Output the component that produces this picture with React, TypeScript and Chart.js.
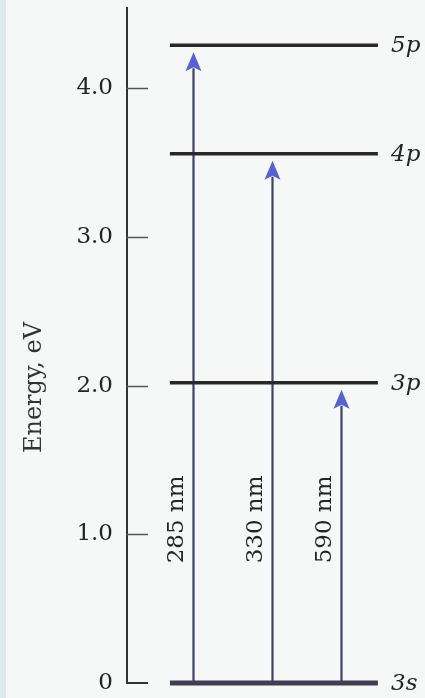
import { useEffect, useRef } from 'react';
import { Chart, registerables } from 'chart.js';

Chart.register(...registerables);

// ---- data ----
const LEVEL_NAMES = ['3s', '3p', '4p', '5p'];
const LEVEL_ENERGIES = [0, 2.02, 3.56, 4.29];

const TRANSITION_LABELS = ['285 nm', '330 nm', '590 nm'];
const TRANSITION_LOWER = [0, 0, 0];
const TRANSITION_UPPER = [4.29, 3.56, 2.02];

const Y_TICKS = [0, 1, 2, 3, 4];
const Y_TICK_LABELS = ['0', '1.0', '2.0', '3.0', '4.0'];
const Y_MIN = 0;
const Y_MAX = 4.54;
const AXIS_TITLE = 'Energy, eV';

// ---- layout (horizontal placement in abstract x units 0..100) ----
const LEVEL_X_START = 14.4;
const LEVEL_X_END = 84.2;
const LEVEL_LABEL_X = 88.6;
const ARROW_X = [22.15, 48.66, 71.81];
const ARROW_LABEL_E = 1.1;

const SERIF = '"DejaVu Serif", "Liberation Serif", serif';
const TEXT = '#242424';

export default function App() {
  const ref = useRef<HTMLCanvasElement>(null);

  useEffect(() => {
    if (!ref.current) return;

    const datasets = LEVEL_NAMES.map((name, i) => ({
      label: name,
      data: [
        { x: LEVEL_X_START, y: LEVEL_ENERGIES[i] },
        { x: LEVEL_X_END, y: LEVEL_ENERGIES[i] },
      ],
      borderColor: i === 0 ? '#433d52' : '#2b2729',
      borderWidth: i === 0 ? 5 : 3.5,
      pointRadius: 0,
      showLine: true,
      fill: false,
      clip: false as any,
    }));

    const diagram = {
      id: 'diagram',
      beforeDatasetsDraw(chart: any) {
        const { ctx, chartArea } = chart;
        const xs = chart.scales.x;
        const ys = chart.scales.y;
        ctx.save();
        // inward axis ticks
        Y_TICKS.forEach((v) => {
          const y = Math.round(ys.getPixelForValue(v)) + 0.5;
          ctx.beginPath();
          ctx.strokeStyle = v === 0 ? '#333' : '#555';
          ctx.lineWidth = v === 0 ? 2 : 1.5;
          ctx.moveTo(chartArea.left - 1, v === 0 ? y - 0.5 : y);
          ctx.lineTo(chartArea.left + 21, v === 0 ? y - 0.5 : y);
          ctx.stroke();
        });
        // axis title
        ctx.save();
        ctx.translate(35, (chartArea.top + chartArea.bottom) / 2 + 42);
        ctx.rotate(-Math.PI / 2);
        ctx.font = `24px ${SERIF}`;
        ctx.fillStyle = '#333';
        ctx.textAlign = 'center';
        ctx.textBaseline = 'middle';
        ctx.fillText(AXIS_TITLE, 0, 0);
        ctx.restore();
        // arrows
        TRANSITION_LABELS.forEach((label, i) => {
          const x = Math.round(xs.getPixelForValue(ARROW_X[i])) + 0.5;
          const y0 = ys.getPixelForValue(TRANSITION_LOWER[i]);
          const yTop = ys.getPixelForValue(TRANSITION_UPPER[i]);
          const tip = yTop + 7;
          const base = tip + 18;
          ctx.beginPath();
          ctx.strokeStyle = '#3d4368';
          ctx.lineWidth = 2.2;
          ctx.moveTo(x, y0);
          ctx.lineTo(x, base - 2);
          ctx.stroke();
          ctx.beginPath();
          ctx.fillStyle = '#5562cf';
          ctx.moveTo(x, tip);
          ctx.lineTo(x + 8, base + 1);
          ctx.lineTo(x, base - 3);
          ctx.lineTo(x - 8, base + 1);
          ctx.closePath();
          ctx.fill();
          // label
          ctx.save();
          ctx.translate(x - 16, ys.getPixelForValue(ARROW_LABEL_E));
          ctx.rotate(-Math.PI / 2);
          ctx.font = `23px ${SERIF}`;
          ctx.fillStyle = TEXT;
          ctx.textAlign = 'center';
          ctx.textBaseline = 'middle';
          ctx.fillText(label, 0, 0);
          ctx.restore();
        });
        ctx.restore();
      },
      afterDatasetsDraw(chart: any) {
        const { ctx } = chart;
        const xs = chart.scales.x;
        const ys = chart.scales.y;
        ctx.save();
        ctx.font = `italic 23px ${SERIF}`;
        ctx.fillStyle = TEXT;
        ctx.textAlign = 'left';
        ctx.textBaseline = 'alphabetic';
        LEVEL_NAMES.forEach((name, i) => {
          ctx.fillText(name, xs.getPixelForValue(LEVEL_LABEL_X), ys.getPixelForValue(LEVEL_ENERGIES[i]) + 7);
        });
        ctx.restore();
      },
    };

    const chart = new Chart(ref.current, {
      type: 'line',
      data: { datasets: datasets as any },
      options: {
        animation: false,
        responsive: false,
        maintainAspectRatio: false,
        layout: { padding: { top: 8, bottom: 15, left: 0, right: 0 } },
        plugins: { legend: { display: false }, tooltip: { enabled: false } },
        scales: {
          x: { type: 'linear', min: 0, max: 100, display: false },
          y: {
            type: 'linear',
            min: Y_MIN,
            max: Y_MAX,
            afterBuildTicks: (s: any) => {
              s.ticks = Y_TICKS.map((v) => ({ value: v }));
            },
            afterFit: (s: any) => {
              s.width = 127;
              s.paddingTop = 0;
              s.paddingBottom = 0;
            },
            grid: { display: false, drawTicks: false },
            border: { display: true, color: '#333333', width: 2 },
            ticks: {
              padding: 14,
              color: TEXT,
              font: { family: SERIF, size: 23 },
              callback: (v: any) => {
                const idx = Y_TICKS.indexOf(Number(v));
                return idx >= 0 ? Y_TICK_LABELS[idx] : '';
              },
            },
          },
        },
      },
      plugins: [diagram],
    });
    return () => chart.destroy();
  }, []);

  return (
    <div
      style={{
        position: 'fixed',
        left: 0,
        top: 0,
        width: 425,
        height: 698,
        background: 'linear-gradient(to right, #dcebef 0px, #dcebef 6px, #f6f7f7 6px)',
      }}
    >
      <canvas ref={ref} width={425} height={698} style={{ display: 'block' }} />
    </div>
  );
}
